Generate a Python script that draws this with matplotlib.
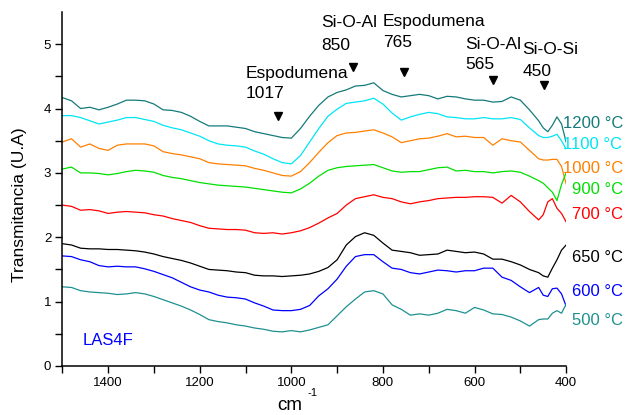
import matplotlib
matplotlib.use("Agg")
import matplotlib.pyplot as plt

plt.rcParams["font.family"] = ["Liberation Sans", "DejaVu Sans"]

# wavenumber grid (cm-1), high to low
WN = [1500, 1480, 1460, 1440, 1420, 1400, 1380, 1360, 1340, 1320,
      1300, 1280, 1260, 1240, 1220, 1200, 1180, 1160, 1140, 1120,
      1100, 1080, 1060, 1040, 1020, 1000, 980, 960, 940, 920,
      900, 880, 860, 840, 820, 800, 780, 760, 740, 720,
      700, 680, 660, 640, 620, 600, 580, 560, 540, 520,
      500, 480, 460, 450, 440, 430, 420, 410, 400]

T1200 = [4.17, 4.12, 4.00, 4.02, 3.98, 4.02, 4.07, 4.13, 4.13, 4.12,
         4.07, 3.98, 3.97, 3.94, 3.88, 3.80, 3.73, 3.73, 3.73, 3.71,
         3.69, 3.64, 3.61, 3.58, 3.55, 3.54, 3.69, 3.88, 4.05, 4.18,
         4.25, 4.29, 4.35, 4.36, 4.40, 4.28, 4.22, 4.18, 4.20, 4.22,
         4.20, 4.15, 4.19, 4.18, 4.15, 4.13, 4.13, 4.10, 4.11, 4.18,
         4.13, 3.98, 3.81, 3.70, 3.64, 3.74, 3.87, 3.76, 3.48]
T1100 = [3.89, 3.89, 3.86, 3.81, 3.76, 3.79, 3.82, 3.86, 3.86, 3.83,
         3.80, 3.74, 3.70, 3.67, 3.62, 3.57, 3.50, 3.45, 3.43, 3.42,
         3.40, 3.34, 3.29, 3.22, 3.16, 3.14, 3.27, 3.48, 3.69, 3.88,
         3.99, 4.08, 4.10, 4.12, 4.16, 4.07, 3.93, 3.82, 3.87, 3.91,
         3.94, 3.92, 3.87, 3.86, 3.84, 3.84, 3.86, 3.84, 3.84, 3.86,
         3.83, 3.70, 3.58, 3.55, 3.55, 3.57, 3.60, 3.50, 3.37]
T1000 = [3.48, 3.53, 3.40, 3.45, 3.38, 3.35, 3.43, 3.45, 3.45, 3.45,
         3.42, 3.33, 3.30, 3.28, 3.25, 3.22, 3.16, 3.14, 3.13, 3.12,
         3.11, 3.07, 3.04, 3.00, 2.96, 2.95, 3.02, 3.16, 3.32, 3.47,
         3.58, 3.62, 3.63, 3.65, 3.67, 3.62, 3.56, 3.47, 3.50, 3.53,
         3.54, 3.57, 3.61, 3.56, 3.57, 3.55, 3.55, 3.43, 3.53, 3.50,
         3.48, 3.35, 3.22, 3.20, 3.20, 3.21, 3.21, 3.10, 2.83]
T900 = [3.06, 3.09, 3.00, 3.00, 2.99, 2.97, 2.99, 3.02, 3.04, 3.03,
        3.01, 2.96, 2.93, 2.91, 2.88, 2.85, 2.83, 2.81, 2.80, 2.79,
        2.78, 2.76, 2.74, 2.72, 2.70, 2.69, 2.75, 2.84, 2.95, 3.04,
        3.08, 3.10, 3.11, 3.12, 3.13, 3.08, 3.03, 3.01, 3.02, 3.02,
        3.05, 3.08, 3.09, 3.03, 3.04, 3.02, 3.02, 3.00, 3.02, 3.03,
        3.01, 2.95, 2.88, 2.84, 2.77, 2.70, 2.57, 2.82, 3.00]
T700 = [2.50, 2.48, 2.42, 2.43, 2.41, 2.37, 2.39, 2.40, 2.39, 2.38,
        2.35, 2.33, 2.29, 2.26, 2.23, 2.18, 2.14, 2.13, 2.12, 2.12,
        2.11, 2.07, 2.06, 2.07, 2.05, 2.07, 2.10, 2.15, 2.22, 2.30,
        2.37, 2.50, 2.60, 2.63, 2.66, 2.62, 2.60, 2.55, 2.52, 2.55,
        2.57, 2.60, 2.61, 2.62, 2.62, 2.63, 2.63, 2.62, 2.53, 2.65,
        2.55, 2.40, 2.27, 2.35, 2.55, 2.60, 2.45, 2.37, 2.24]
T650 = [1.90, 1.88, 1.83, 1.82, 1.82, 1.81, 1.81, 1.80, 1.79, 1.77,
        1.74, 1.70, 1.67, 1.64, 1.60, 1.55, 1.50, 1.49, 1.48, 1.46,
        1.45, 1.41, 1.40, 1.40, 1.39, 1.40, 1.41, 1.43, 1.47, 1.53,
        1.65, 1.88, 2.01, 2.07, 2.03, 1.91, 1.80, 1.78, 1.76, 1.72,
        1.73, 1.74, 1.80, 1.78, 1.76, 1.77, 1.74, 1.66, 1.66, 1.62,
        1.57, 1.50, 1.45, 1.40, 1.38, 1.52, 1.65, 1.80, 1.88]
T600 = [1.71, 1.70, 1.65, 1.62, 1.56, 1.54, 1.55, 1.54, 1.54, 1.51,
        1.47, 1.42, 1.37, 1.30, 1.23, 1.18, 1.15, 1.10, 1.07, 1.06,
        1.04, 0.98, 0.93, 0.87, 0.86, 0.86, 0.88, 0.94, 1.09, 1.20,
        1.35, 1.55, 1.70, 1.73, 1.73, 1.62, 1.52, 1.50, 1.45, 1.43,
        1.46, 1.49, 1.48, 1.46, 1.48, 1.48, 1.52, 1.52, 1.38, 1.33,
        1.23, 1.14, 1.22, 1.10, 1.08, 1.20, 1.21, 1.12, 0.93]
T500 = [1.23, 1.22, 1.17, 1.15, 1.14, 1.13, 1.11, 1.12, 1.14, 1.12,
        1.08, 1.03, 0.98, 0.93, 0.87, 0.80, 0.72, 0.69, 0.67, 0.64,
        0.62, 0.59, 0.57, 0.54, 0.53, 0.55, 0.53, 0.56, 0.60, 0.64,
        0.78, 0.92, 1.04, 1.15, 1.17, 1.12, 0.95, 0.88, 0.79, 0.81,
        0.79, 0.82, 0.88, 0.86, 0.82, 0.91, 0.87, 0.81, 0.80, 0.76,
        0.70, 0.62, 0.72, 0.73, 0.73, 0.82, 0.86, 0.82, 0.96]

SERIES = [("1200", T1200, "#157a7a"), ("1100", T1100, "#00e5f5"),
          ("1000", T1000, "#ff8000"), ("900", T900, "#00e000"),
          ("700", T700, "#ff0000"), ("650", T650, "#000000"),
          ("600", T600, "#0000ff"), ("500", T500, "#1f9090")]

# label anchor (x in cm-1, y in U.A) for each curve name
LABEL_X = [407, 407, 407, 387, 387, 387, 387, 387]
LABEL_Y = [3.77, 3.44, 3.07, 2.74, 2.36, 1.69, 1.16, 0.71]

# band assignments: text lines, text anchor, arrow position
BANDS = [("Espodumena", "1017", 1099, 4.48, 4.17, 1030, 3.88),
         ("Si-O-Al", "850", 934, 5.26, 4.91, 865, 4.64),
         ("Espodumena", "765", 800, 5.29, 4.96, 755, 4.57),
         ("Si-O-Al", "565", 621, 4.93, 4.62, 559, 4.45),
         ("Si-O-Si", "450", 495, 4.85, 4.51, 448, 4.36)]

fig = plt.figure(figsize=(6.27, 4.15), dpi=100)
ax = fig.add_axes([0.0994, 0.1181, 0.8035, 0.853])

for (name, ys, col), lx, ly in zip(SERIES, LABEL_X, LABEL_Y):
    ax.plot(WN, ys, color=col, lw=0.9)
    ax.text(lx, ly, f"{name} \u00b0C", color=col, fontsize=12,
            ha="left", va="center", clip_on=False)

for top, num, tx, ty1, ty2, mx, my in BANDS:
    ax.text(tx, ty1, top, fontsize=12.5, ha="left", va="baseline")
    ax.text(tx, ty2, num, fontsize=12.5, ha="left", va="baseline")
    ax.plot([mx], [my], marker="v", color="black", ms=6, ls="none")

ax.text(1455, 0.40, "LAS4F", color="#0000ff", fontsize=12,
        ha="left", va="center")

ax.set_xlim(1500, 400)
ax.set_ylim(0, 5.5)
ax.set_xticks([1400, 1200, 1000, 800, 600, 400])
ax.set_xticks([1500, 1300, 1100, 900, 700, 500], minor=True)
ax.set_yticks([0, 1, 2, 3, 4, 5])
ax.set_yticks([0.5, 1.5, 2.5, 3.5, 4.5], minor=True)
ax.tick_params(which="both", direction="out", length=5, width=1,
               labelsize=9.5, pad=3)
for s in ("top", "right"):
    ax.spines[s].set_visible(False)
for s in ("left", "bottom"):
    ax.spines[s].set_linewidth(1.1)

fig.text(20 / 627, 1 - 205 / 415, "Transmitancia (U.A)", rotation=90,
         fontsize=12.5, ha="center", va="center")
fig.text(290 / 627, 1 - 405 / 415, "cm", fontsize=13.5,
         ha="center", va="center")
fig.text(313 / 627, 1 - 393 / 415, "-1", fontsize=8,
         ha="center", va="center")

fig.savefig("out.png", dpi=100)
